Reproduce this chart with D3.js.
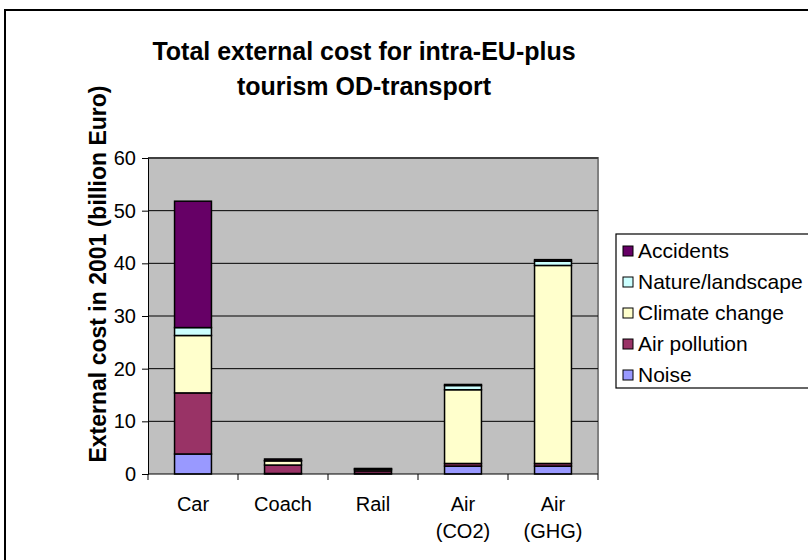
<!DOCTYPE html>
<html><head><meta charset="utf-8">
<script src="https://cdn.jsdelivr.net/npm/d3@7"></script>
<style>body{margin:0;background:#fff}svg{display:block}text{font-family:"Liberation Sans",Arial,sans-serif}</style>
</head><body><svg id="c" width="808" height="560"></svg>
<script>
const categories = [["Car"],["Coach"],["Rail"],["Air","(CO2)"],["Air","(GHG)"]];
const seriesNames = ["Noise","Air pollution","Climate change","Nature/landscape","Accidents"];
const seriesColors = ["#9999FF","#993366","#FFFFCC","#CCFFFF","#660066"];
const noise        = [3.8, 0.1, 0.1, 1.5, 1.5];
const airPollution = [11.6, 1.6, 0.5, 0.5, 0.5];
const climate      = [10.9, 0.8, 0.3, 14.0, 37.6];
const nature       = [1.5, 0.05, 0.05, 0.8, 0.8];
const accidents    = [24.0, 0.3, 0.1, 0.2, 0.3];
const yTicks = [0,10,20,30,40,50,60];
const title = ["Total external cost for intra-EU-plus","tourism OD-transport"];
const yTitle = "External cost in 2001 (billion Euro)";

const seriesVals = [noise, airPollution, climate, nature, accidents];
const rows = categories.map((c,i)=>{const r={key:i}; seriesNames.forEach((s,j)=>r[s]=seriesVals[j][i]); return r;});
const stacked = d3.stack().keys(seriesNames)(rows);

const svg = d3.select("#c");
const L=148,R=598,T=158,B=474;
const x = d3.scaleBand().domain(d3.range(categories.length)).range([L,R]).paddingInner(0.59).paddingOuter(0.295);
const xb = d3.scaleBand().domain(d3.range(categories.length)).range([L,R]);
const y = d3.scaleLinear().domain([0,60]).range([B,T]);

// outer border
svg.append("rect").attr("x",5).attr("y",10).attr("width",820).attr("height",570).attr("fill","none").attr("stroke","#000").attr("stroke-width",2);

// title
svg.append("g").selectAll("text").data(title).join("text")
 .attr("x",364).attr("y",(d,i)=>60+i*35).attr("text-anchor","middle")
 .attr("font-size",25).attr("font-weight","bold").text(d=>d);

// plot area
svg.append("rect").attr("x",L).attr("y",T).attr("width",R-L).attr("height",B-T).attr("fill","#C0C0C0");
svg.append("path").attr("d",`M${L},${T}H${R}V${B}`).attr("fill","none").attr("stroke","#808080").attr("stroke-width",2);
// gridlines
svg.append("g").selectAll("line").data(yTicks.filter(v=>v>0)).join("line")
 .attr("x1",L).attr("x2",R).attr("y1",d=>y(d)).attr("y2",d=>y(d)).attr("stroke","#000").attr("stroke-width",1);

// bars
svg.append("g").selectAll("g").data(stacked).join("g")
 .attr("fill",(d,i)=>seriesColors[i])
 .selectAll("rect").data(d=>d).join("rect")
 .attr("x",(d,i)=>x(i)).attr("width",x.bandwidth())
 .attr("y",d=>y(d[1])).attr("height",d=>Math.max(0,y(d[0])-y(d[1])))
 .attr("stroke","#000").attr("stroke-width",1.5);

// y axis
const ya = svg.append("g").attr("transform",`translate(${L},0)`)
 .call(d3.axisLeft(y).tickValues(yTicks).tickSize(6).tickPadding(6).tickFormat(d3.format("d")));
ya.select(".domain").attr("stroke","#000");
ya.selectAll("text").attr("font-size",20).attr("fill","#000");
// x axis
svg.append("line").attr("x1",L).attr("x2",R).attr("y1",B).attr("y2",B).attr("stroke","#000");
svg.append("g").selectAll("line").data(d3.range(categories.length+1)).join("line")
 .attr("x1",d=>L+d*xb.bandwidth()).attr("x2",d=>L+d*xb.bandwidth()).attr("y1",B).attr("y2",B+6).attr("stroke","#000");
const xl = svg.append("g").selectAll("text").data(categories).join("text")
 .attr("text-anchor","middle").attr("font-size",20)
 .attr("x",(d,i)=>xb(i)+xb.bandwidth()/2).attr("y",511);
xl.selectAll("tspan").data(d=>d).join("tspan")
 .attr("x",function(){return d3.select(this.parentNode).attr("x");})
 .attr("dy",(d,i)=>i?27:0).text(d=>d);

// y title
svg.append("text").attr("transform",`translate(106,274) rotate(-90)`)
 .attr("text-anchor","middle").attr("font-size",23).attr("font-weight","bold").text(yTitle);

// legend
const lg = svg.append("g");
lg.append("rect").attr("x",616).attr("y",234).attr("width",220).attr("height",154).attr("fill","#fff").attr("stroke","#000").attr("stroke-width",1.2);
const items = seriesNames.map((s,i)=>({s,c:seriesColors[i]})).reverse();
const it = lg.selectAll("g.it").data(items).join("g").attr("class","it")
 .attr("transform",(d,i)=>`translate(623,${251+i*31})`);
it.append("rect").attr("x",0).attr("y",-5).attr("width",10).attr("height",10).attr("fill",d=>d.c).attr("stroke","#000");
it.append("text").attr("x",15).attr("y",7).attr("font-size",21).text(d=>d.s);
</script></body></html>
